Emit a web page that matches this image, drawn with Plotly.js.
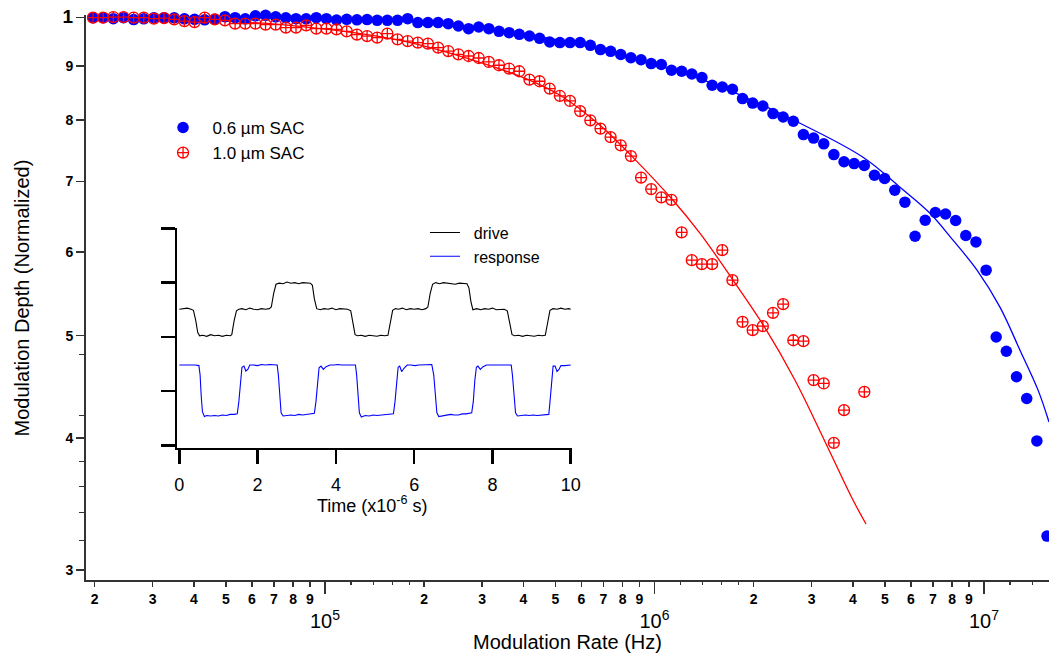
<!DOCTYPE html>
<html>
<head>
<meta charset="utf-8">
<script src="https://cdn.plot.ly/plotly-3.0.1.min.js"></script>
<style>html,body{margin:0;padding:0;background:#fff;}#chart{width:1049px;height:655px;}</style>
</head>
<body>
<div id="chart"></div>
<script>
// Modulation frequencies (Hz), shared by both SAC series
const freq = [
  19770,21220,22780,24460,26260,28180,30250,32480,34860,37430,
  40180,43130,46300,49700,53360,57280,61490,66010,70860,76070,
  81660,87660,94100,101000,108400,116400,125000,134200,144000,154600,
  166000,178200,191300,205300,220400,236600,254000,272700,292700,314200,
  337300,362100,388700,417300,447900,480800,516200,554100,594800,638600,
  685500,735900,789900,848000,910400,977200,1049000,1126000,1209000,1298000,
  1393000,1496000,1606000,1724000,1850000,1986000,2132000,2289000,2457000,2638000,
  2831000,3039000,3263000,3502000,3760000,4036000,4333000,4651000,4993000,5360000,
  5754000,6177000,6631000,7118000,7642000,8204000,8806000,9454000,10150000,10890000,
  11690000,12550000,13480000,14470000,15530000
];
// 0.6 um SAC normalized modulation depth
const sac06 = [
  1.000,1.000,0.9978,1.000,0.9957,0.9974,1.000,1.000,0.9996,0.9974,
  0.9963,0.9952,0.9963,1.0022,1.000,0.9974,1.0039,1.0050,1.0017,0.9996,
  0.9978,0.9974,1.000,0.9978,0.9948,0.9963,0.9952,0.9957,0.9941,0.9941,
  0.9941,0.9978,0.9892,0.9892,0.9892,0.9870,0.9819,0.9763,0.9797,0.9763,
  0.9706,0.9678,0.9643,0.9607,0.9559,0.9483,0.9470,0.9470,0.9470,0.9414,
  0.9327,0.9292,0.9228,0.9162,0.9123,0.9047,0.9030,0.8916,0.8897,0.8844,
  0.8775,0.8629,0.8597,0.8554,0.8383,0.8301,0.8249,0.8113,0.8053,0.7978,
  0.7750,0.7691,0.7595,0.7419,0.7304,0.7275,0.7245,0.7092,0.7042,0.6864,
  0.6688,0.6209,0.6430,0.6540,0.6518,0.6427,0.6219,0.6133,0.5767,0.4985,
  0.4833,0.4571,0.4360,0.3975,0.3230
];
// 1.0 um SAC normalized modulation depth (first 77 frequencies)
const sac10 = [
  1.000,1.000,1.0013,1.0013,1.000,1.000,0.9978,0.9991,0.9963,0.9926,
  0.9904,1.000,0.9963,0.9941,0.9870,0.9870,0.9870,0.9849,0.9849,0.9785,
  0.9785,0.9834,0.9763,0.9763,0.9748,0.9706,0.9637,0.9607,0.9574,0.9657,
  0.9538,0.9503,0.9470,0.9449,0.9368,0.9298,0.9232,0.9198,0.9158,0.9079,
  0.9014,0.8950,0.8897,0.8736,0.8705,0.8567,0.8434,0.8339,0.8157,0.7995,
  0.7852,0.7707,0.7570,0.7395,0.7055,0.6882,0.6758,0.6721,0.6263,0.5894,
  0.5843,0.5843,0.6024,0.5643,0.5152,0.5060,0.5104,0.5254,0.5355,0.4950,
  0.4940,0.4538,0.4505,0.3958,0.4250,null,0.4423
];
// fit curves
const fitFreq06 = [19770,83960,168900,339700,516800,785900,1195000,1580000,2764000,4294000,5560000,6857000,8052000,9524000,11180000,12860000,14590000,15750000];
const fit06 = [1.000,0.9985,0.9941,0.9727,0.9517,0.9232,0.8876,0.8610,0.7943,0.7376,0.6910,0.6529,0.6157,0.5767,0.5320,0.4844,0.4440,0.4142];
const fitFreq10 = [19770,41750,83960,168900,295400,419000,516800,683300,854400,1138000,1375000,1731000,2149000,2670000,3362000,4003000,4385000];
const fit10 = [1.000,0.9952,0.9812,0.9517,0.9073,0.8723,0.8444,0.7909,0.7391,0.6717,0.6249,0.5643,0.5104,0.4537,0.3914,0.3494,0.3316];

// inset traces (time in us, arbitrary units)
const tDrive = [
  0,0.1,0.2,0.3,0.36, 0.42,0.47,0.52,
  0.6,0.7,0.8,0.9,1.0,1.1,1.2,1.3,1.34, 1.40,1.46,1.52,
  1.6,1.7,1.8,1.9,2.0,2.1,2.2,2.3,2.35, 2.41,2.47,2.55,
  2.65,2.75,2.85,2.95,3.05,3.15,3.25,3.35,3.40, 3.45,3.51,
  3.6,3.7,3.8,3.9,4.0,4.1,4.2,4.3,4.38, 4.43,4.49,4.55,
  4.65,4.75,4.85,4.95,5.05,5.15,5.25,5.33, 5.39,5.45,5.52,
  5.6,5.7,5.8,5.9,6.0,6.1,6.2,6.3,6.35, 6.41,6.47,6.55,
  6.65,6.75,6.85,6.95,7.05,7.15,7.25,7.35,7.40, 7.45,7.50,
  7.6,7.7,7.8,7.9,8.0,8.1,8.2,8.3,8.38, 8.44,8.50,8.57,
  8.67,8.77,8.87,8.97,9.07,9.17,9.27,9.35, 9.41,9.47,9.55,
  9.65,9.75,9.85,9.95,10.0
];
const vDrive = [
  2.51,2.52,2.53,2.51,2.49, 2.30,2.08,2.02,
  2.03,2.01,2.04,2.02,2.03,2.01,2.03,2.02,2.04, 2.30,2.48,2.51,
  2.52,2.50,2.53,2.51,2.50,2.52,2.51,2.52,2.55, 2.80,2.97,2.99,
  2.98,3.01,2.99,3.00,2.98,3.00,2.99,2.99,2.95, 2.70,2.52,
  2.50,2.52,2.51,2.53,2.50,2.52,2.51,2.51,2.48, 2.25,2.04,2.02,
  2.03,2.01,2.03,2.02,2.01,2.03,2.02,2.03, 2.30,2.49,2.52,
  2.51,2.53,2.50,2.52,2.51,2.52,2.50,2.52,2.55, 2.80,2.97,3.00,
  2.98,3.00,2.99,2.99,2.97,2.99,2.98,2.98,2.90, 2.65,2.50,
  2.52,2.50,2.52,2.51,2.53,2.50,2.51,2.51,2.48, 2.25,2.04,2.02,
  2.03,2.01,2.03,2.02,2.01,2.03,2.02,2.03, 2.30,2.49,2.52,
  2.51,2.53,2.51,2.52,2.51
];
const tResp = [
  0,0.1,0.2,0.3,0.4,0.5, 0.53,0.56,0.59,0.64,
  0.7,0.8,0.9,1.0,1.1,1.2,1.3,1.4,1.48, 1.52,1.56,1.60,1.65,1.70,1.75,1.80,
  1.9,2.0,2.1,2.2,2.3,2.4,2.5, 2.53,2.56,2.6,2.65,
  2.75,2.85,2.95,3.05,3.15,3.25,3.35,3.45, 3.49,3.53,3.57,3.62,3.68,3.75,3.85,
  3.95,4.05,4.15,4.25,4.35,4.5, 4.53,4.56,4.6,4.65,
  4.75,4.85,4.95,5.05,5.15,5.25,5.35,5.47, 5.51,5.55,5.59,5.63,5.68,5.74,5.82,
  5.92,6.02,6.12,6.22,6.32,6.45, 6.5,6.54,6.58,6.63,
  6.73,6.83,6.93,7.03,7.13,7.23,7.33,7.47, 7.51,7.55,7.59,7.63,7.69,7.76,7.85,
  7.95,8.05,8.15,8.25,8.35,8.48, 8.51,8.55,8.59,8.64,
  8.74,8.84,8.94,9.04,9.14,9.24,9.34,9.44, 9.47,9.51,9.55,9.60,9.65,9.70,9.75,
  9.85,10.0
];
const vResp = [
  1.48,1.48,1.49,1.48,1.48,1.47, 1.30,0.90,0.62,0.53,
  0.55,0.54,0.55,0.54,0.56,0.55,0.57,0.57,0.58, 0.80,1.20,1.44,1.46,1.37,1.40,1.48,
  1.48,1.47,1.49,1.48,1.49,1.48,1.48, 1.30,0.90,0.60,0.54,
  0.55,0.56,0.55,0.57,0.56,0.57,0.58,0.59, 0.80,1.20,1.43,1.46,1.40,1.45,1.48,
  1.48,1.49,1.48,1.48,1.48,1.48, 1.30,0.90,0.60,0.52,
  0.55,0.54,0.56,0.55,0.56,0.56,0.57,0.58, 0.80,1.20,1.44,1.46,1.36,1.42,1.48,
  1.48,1.47,1.48,1.48,1.49,1.49, 1.30,0.90,0.60,0.53,
  0.54,0.55,0.57,0.56,0.56,0.58,0.58,0.60, 0.80,1.20,1.44,1.46,1.40,1.45,1.48,
  1.48,1.48,1.47,1.48,1.48,1.48, 1.30,0.90,0.60,0.54,
  0.55,0.56,0.55,0.56,0.55,0.56,0.57,0.57, 0.80,1.20,1.46,1.46,1.36,1.40,1.47,
  1.47,1.48
];

// tick definitions
const xDigitTicks = [2e4,3e4,4e4,5e4,6e4,7e4,8e4,9e4,2e5,3e5,4e5,5e5,6e5,7e5,8e5,9e5,2e6,3e6,4e6,5e6,6e6,7e6,8e6,9e6];
const xDigitLabels = ['2','3','4','5','6','7','8','9','2','3','4','5','6','7','8','9','2','3','4','5','6','7','8','9'];
const xMinorTicks = [1.2e5,1.4e5,1.6e5,1.8e5,1.2e6,1.4e6,1.6e6,1.8e6,1.2e7,1.4e7];
const xDecadeTicks = [1e5,1e6,1e7];
const xDecadeLabels = ['10<sup>5</sup>','10<sup>6</sup>','10<sup>7</sup>'];
const yTicks = [1,0.9,0.8,0.7,0.6,0.5,0.4,0.3];
const yLabels = ['<span style="font-size:19px">1</span>','9','8','7','6','5','4','3'];
const yMinorTicks = [0.48,0.42,0.38,0.36,0.34,0.32];
const insetXTicks = [0,2,4,6,8,10];
const insetYTicks = [0,1,2,3,4];

const FONT = 'Liberation Sans, Arial, Helvetica, sans-serif';
const AX = '#333';
const SP = '\u00a0\u00a0';

const traces = [
  {x: fitFreq10, y: fit10, mode: 'lines', line: {color: '#ff0000', width: 1.3, shape: 'spline', smoothing: 1}, showlegend: false, hoverinfo: 'skip'},
  {x: fitFreq06, y: fit06, mode: 'lines', line: {color: '#0000ff', width: 1.3, shape: 'spline', smoothing: 1}, showlegend: false, hoverinfo: 'skip'},
  {x: freq, y: sac06, mode: 'markers', name: SP + '0.6 µm SAC', cliponaxis: false,
   marker: {symbol: 'circle', size: 11.5, color: '#0000ff', line: {width: 0}}},
  {x: freq.slice(0, sac10.length), y: sac10, mode: 'markers', name: SP + '1.0 µm SAC', cliponaxis: false,
   marker: {symbol: 'circle-cross-open', size: 11, color: '#ff0000', line: {width: 1.3, color: '#ff0000'}}},
  {x: [], y: [], xaxis: 'x2', yaxis: 'y', showlegend: false, hoverinfo: 'skip'},
  {x: tDrive, y: vDrive, xaxis: 'x3', yaxis: 'y3', mode: 'lines', name: SP + 'drive', legend: 'legend2',
   line: {color: '#000000', width: 1.1}},
  {x: tResp, y: vResp, xaxis: 'x3', yaxis: 'y3', mode: 'lines', name: SP + 'response', legend: 'legend2',
   line: {color: '#0000ff', width: 1.1}}
];

const xr = [4.27466, 7.19727];
const layout = {
  width: 1049, height: 655,
  margin: {l: 86, r: 0, t: 15, b: 75, pad: 0},
  paper_bgcolor: '#ffffff', plot_bgcolor: 'rgba(0,0,0,0)',
  font: {family: FONT, color: '#000'},
  showlegend: true,
  xaxis: {
    type: 'log', range: xr, showgrid: false, zeroline: false,
    showline: true, linecolor: AX, linewidth: 2,
    ticks: 'outside', ticklen: 5, tickwidth: 1.5, tickcolor: AX,
    tickmode: 'array', tickvals: xDigitTicks, ticktext: xDigitLabels,
    tickfont: {size: 14, weight: 'bold', family: FONT},
    minor: {tickmode: 'array', tickvals: xMinorTicks, ticks: 'outside', ticklen: 3, tickwidth: 1.2, tickcolor: AX, showgrid: false}
  },
  xaxis2: {
    type: 'log', range: xr, overlaying: 'x', anchor: 'y', side: 'bottom',
    showgrid: false, zeroline: false, showline: false,
    ticks: 'outside', ticklen: 13, tickwidth: 1.5, tickcolor: AX,
    tickmode: 'array', tickvals: xDecadeTicks, ticktext: xDecadeLabels,
    tickfont: {size: 20, family: FONT}, ticklabelstandoff: 10
  },
  yaxis: {
    type: 'log', range: [-0.53236, 0.0025], showgrid: false, zeroline: false,
    showline: true, linecolor: AX, linewidth: 2,
    ticks: 'outside', ticklen: 8, tickwidth: 1.5, tickcolor: AX,
    tickmode: 'array', tickvals: yTicks, ticktext: yLabels,
    tickfont: {size: 14, weight: 'bold', family: FONT},
    minor: {tickmode: 'array', tickvals: yMinorTicks, ticks: 'outside', ticklen: 5, tickwidth: 1.2, tickcolor: AX, showgrid: false}
  },
  xaxis3: {
    domain: [0.0942, 0.5044], anchor: 'y3', range: [-0.067, 10.026],
    showgrid: false, zeroline: false, showline: true, linecolor: '#000', linewidth: 2.2,
    ticks: 'outside', ticklen: 14, tickwidth: 2.5, tickcolor: '#000',
    tickmode: 'array', tickvals: insetXTicks, ticktext: insetXTicks.map(String),
    tickfont: {size: 18, family: FONT}, ticklabelstandoff: 5
  },
  yaxis3: {
    domain: [0.2336, 0.6223], anchor: 'x3', range: [-0.05, 4.0],
    showgrid: false, zeroline: false, showline: true, linecolor: '#000', linewidth: 2.2,
    ticks: 'outside', ticklen: 14, tickwidth: 2.5, tickcolor: '#000',
    tickmode: 'array', tickvals: insetYTicks, showticklabels: false
  },
  legend: {
    x: 0.080, y: 0.832, xanchor: 'left', yanchor: 'top',
    font: {size: 17, family: FONT}, bgcolor: 'rgba(0,0,0,0)', borderwidth: 0
  },
  legend2: {
    x: 0.352, y: 0.645, xanchor: 'left', yanchor: 'top',
    font: {size: 16, family: FONT}, bgcolor: 'rgba(0,0,0,0)', borderwidth: 0
  },
  annotations: [
    {text: 'Modulation Depth (Normalized)', textangle: -90, xref: 'paper', yref: 'paper',
     x: -0.0665, y: 0.5, xanchor: 'center', yanchor: 'middle', showarrow: false,
     font: {size: 20, family: FONT}},
    {text: 'Modulation Rate (Hz)', xref: 'paper', yref: 'paper',
     x: 0.5, y: -0.110, xanchor: 'center', yanchor: 'middle', showarrow: false,
     font: {size: 20, family: FONT}},
    {text: 'Time (x10<sup>-6</sup> s)', xref: 'paper', yref: 'paper',
     x: 0.298, y: 0.1330, xanchor: 'center', yanchor: 'middle', showarrow: false,
     font: {size: 18, family: FONT}}
  ]
};

Plotly.newPlot('chart', traces, layout, {displayModeBar: false, staticPlot: true});
</script>
</body>
</html>
